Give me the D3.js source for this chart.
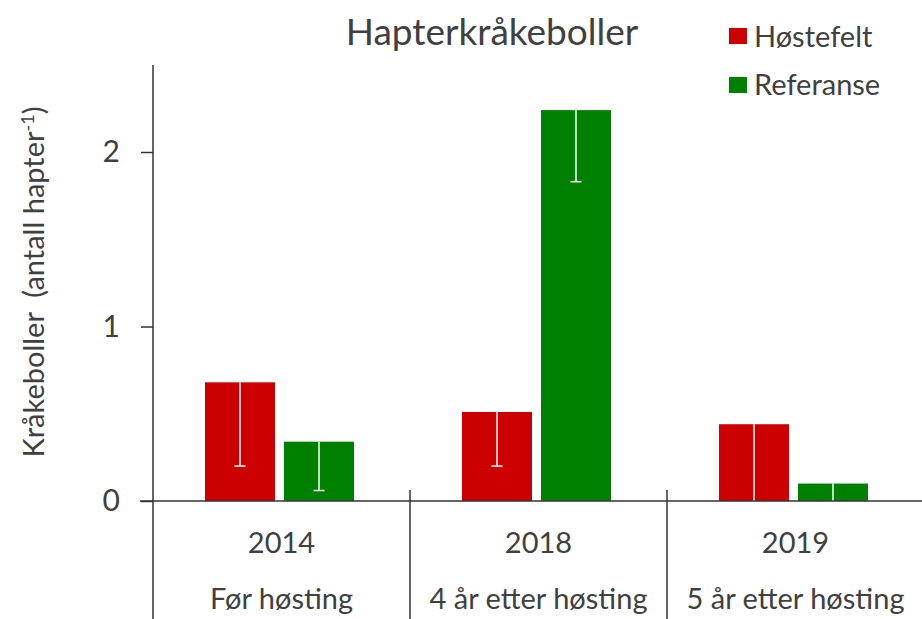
<!DOCTYPE html>
<html>
<head>
<meta charset="utf-8">
<script src="https://cdn.jsdelivr.net/npm/d3@7"></script>
<style>
  body { margin: 0; background: #fff; }
  text { font-family: Lato, "Open Sans", sans-serif; fill: #404040; }
</style>
</head>
<body>
<script>
const years = ['2014', '2018', '2019'];
const periods = ['Før høsting', '4 år etter høsting', '5 år etter høsting'];
const series = ['Høstefelt', 'Referanse'];
const colors = ['#cc0000', '#008000'];
const meanValues = [[0.68, 0.51, 0.44], [0.34, 2.24, 0.10]];
const lowerValues = [[0.20, 0.20, 0.0], [0.06, 1.83, 0.0]];
const yTicks = [0, 1, 2];

const w = 922, h = 619;
const svg = d3.select('body').append('svg')
    .attr('width', w)
    .attr('height', h);

const x = d3.scaleBand()
    .domain(years)
    .range([153, 924]);
const xInner = d3.scaleBand()
    .domain(series)
    .range([52, 201])
    .paddingInner(0.114);
const y = d3.scaleLinear()
    .domain([0, 2])
    .range([501, 152]);

// y axis
const yAxis = d3.axisLeft(y)
    .tickValues(yTicks)
    .tickSize(12)
    .tickPadding(21)
    .tickFormat(d3.format('d'));
const gy = svg.append('g')
    .attr('transform', 'translate(153,0)')
    .call(yAxis);
gy.select('.domain').remove();
gy.selectAll('line').attr('stroke', '#333').attr('stroke-width', 1.5);
gy.selectAll('text')
    .style('font-size', '30px')
    .attr('fill', '#404040');
svg.append('line')
    .attr('x1', 153).attr('x2', 153)
    .attr('y1', 65).attr('y2', h)
    .attr('stroke', '#333').attr('stroke-width', 1.5);

// bars
const data = [];
years.forEach((yr, i) => {
  series.forEach((s, j) => {
    data.push({ year: yr, s: s, j: j, v: meanValues[j][i], lo: lowerValues[j][i] });
  });
});

svg.append('g').selectAll('rect')
    .data(data)
    .enter()
    .append('rect')
    .attr('x', d => x(d.year) + xInner(d.s))
    .attr('y', d => y(d.v))
    .attr('width', xInner.bandwidth())
    .attr('height', d => y(0) - y(d.v))
    .attr('fill', d => colors[d.j]);

// error bars (white, downward)
const err = svg.append('g').attr('stroke', '#fff').attr('stroke-width', 1.5);
data.forEach(d => {
  const cx = x(d.year) + xInner(d.s) + xInner.bandwidth() / 2;
  err.append('line')
     .attr('x1', cx).attr('x2', cx)
     .attr('y1', y(d.v)).attr('y2', y(d.lo));
  if (d.lo > 0) {
    err.append('line')
       .attr('x1', cx - 5.5).attr('x2', cx + 5.5)
       .attr('y1', y(d.lo)).attr('y2', y(d.lo));
  }
});

// x axis baseline and category dividers
svg.append('line')
    .attr('x1', 140).attr('x2', w)
    .attr('y1', y(0)).attr('y2', y(0))
    .attr('stroke', '#333').attr('stroke-width', 1.5);
svg.append('g').selectAll('line')
    .data(years.slice(1))
    .enter()
    .append('line')
    .attr('x1', d => x(d)).attr('x2', d => x(d))
    .attr('y1', 490).attr('y2', h)
    .attr('stroke', '#333').attr('stroke-width', 1.5);

svg.append('g').selectAll('text')
    .data(years)
    .enter()
    .append('text')
    .attr('x', d => x(d) + x.bandwidth() / 2)
    .attr('y', 553)
    .attr('text-anchor', 'middle')
    .style('font-size', '29px')
    .text(d => d);
svg.append('g').selectAll('text')
    .data(periods)
    .enter()
    .append('text')
    .attr('x', (d, i) => x(years[i]) + x.bandwidth() / 2)
    .attr('y', 609)
    .attr('text-anchor', 'middle')
    .style('font-size', '29px')
    .text(d => d);

// y label
const yl = svg.append('text')
    .attr('transform', 'translate(44,282) rotate(-90)')
    .attr('text-anchor', 'middle')
    .style('font-size', '29px')
    .style('white-space', 'pre');
yl.append('tspan').text('Kråkeboller  (antall hapter');
yl.append('tspan').attr('dy', -10).style('font-size', '18px').text('-1');
yl.append('tspan').attr('dy', 10).text(')');

// title
svg.append('text')
    .attr('x', 492)
    .attr('y', 45)
    .attr('text-anchor', 'middle')
    .style('font-size', '37px')
    .text('Hapterkråkeboller');

// legend
const legend = svg.append('g');
series.forEach((s, j) => {
  legend.append('rect')
      .attr('x', 729).attr('y', 28 + j * 49)
      .attr('width', 18).attr('height', 16)
      .attr('fill', colors[j]);
  legend.append('text')
      .attr('x', 754).attr('y', 47 + j * 48)
      .style('font-size', '29px')
      .text(s);
});
</script>
</body>
</html>
